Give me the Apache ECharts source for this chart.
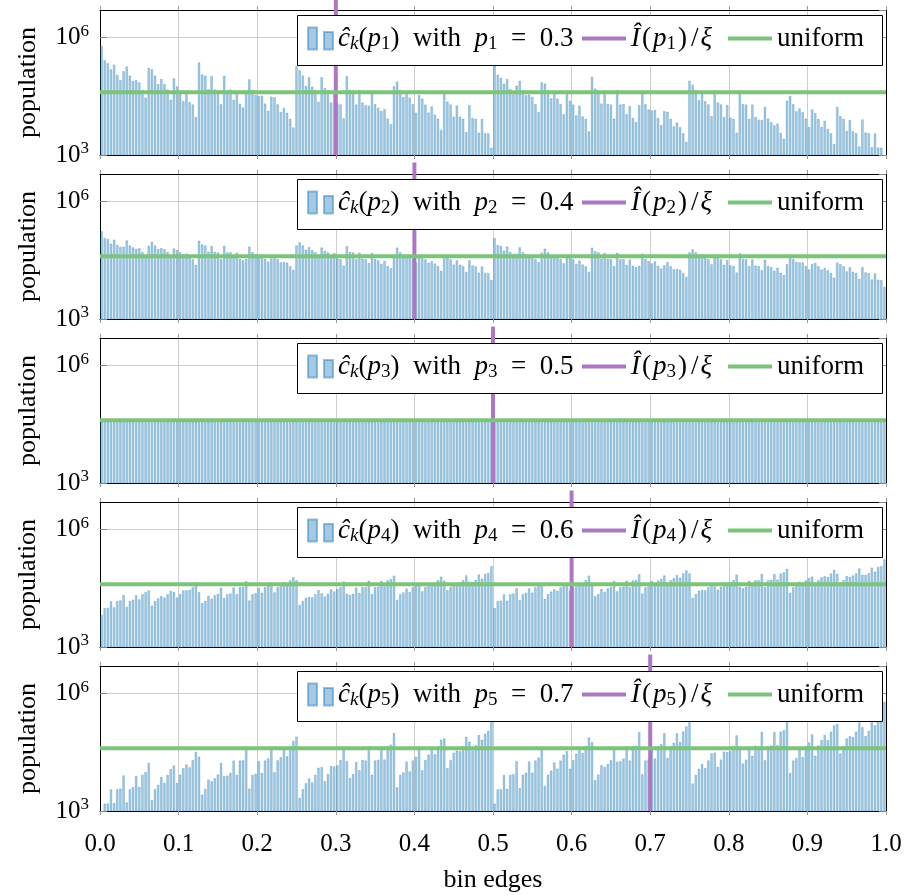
<!DOCTYPE html>
<html><head><meta charset="utf-8">
<script src="https://cdn.jsdelivr.net/npm/echarts@6/dist/echarts.min.js"></script>
<style>html,body{margin:0;padding:0;background:#fff}#chart{width:906px;height:895px}</style>
</head><body><div id="chart"></div>
<script>
// ---- data (population per bin, in thousands) ----
const pValues = [0.3, 0.4, 0.5, 0.6, 0.7];
const uniformThousands = 40;
const c1k = [615,264,221,155,204,112,82.9,139,184,107,78.6,82.0,71.7,46.7,29.5,169,
156,107,65.2,87.9,64.9,47.4,25.9,91.1,56.8,45.7,24.0,42.7,22.6,19.6,9.42,232,
116,107,48.3,104,47.5,45.7,19.8,106,45.7,47.1,25.9,41.8,20.6,16.4,44.3,85.9,
46.7,34.4,32.3,33.0,20.7,13.5,31.1,29.9,19.7,12.6,16.0,12.0,8.41,5.05,186,146,
108,58.6,96.9,55.7,46.1,22.9,97.6,51.6,45.8,22.0,44.4,20.9,19.6,8.70,104,46.5,
45.6,19.6,45.4,21.9,18.7,18.2,39.8,20.0,16.1,13.4,14.9,8.57,6.13,57.2,76.0,46.7,
30.6,36.1,29.2,19.9,12.1,34.0,27.6,19.5,12.2,17.4,10.8,8.48,4.41,40.0,23.2,19.6,
9.62,18.5,9.51,8.47,3.87,18.9,8.77,8.40,3.70,8.31,3.63,3.58,1.54,264,113,94.9,
66.5,87.4,48.2,35.5,59.5,79.0,45.9,33.7,35.1,30.7,20.0,12.6,72.4,67.0,45.8,28.0,
37.7,27.8,20.3,11.1,39.1,24.3,19.6,10.3,18.3,9.68,8.39,4.04,99.4,49.9,45.8,20.7,
44.8,20.4,19.6,8.49,45.3,19.6,20.2,11.1,17.9,8.85,7.03,19.0,36.8,20.0,14.7,13.8,
14.1,8.88,5.79,13.3,12.8,8.43,5.40,6.84,5.15,3.60,2.16,79.6,62.4,46.2,25.1,41.5,
23.9,19.8,9.79,41.8,22.1,19.6,9.43,19.0,8.96,8.39,3.73,44.8,19.9,19.5,8.42,19.5,
9.39,8.03,7.81,17.0,8.57,6.91,5.73,6.38,3.67,2.63,24.5,32.6,20.0,13.1,15.5,12.5,
8.53,5.20,14.6,11.8,8.37,5.23,7.46,4.64,3.63,1.89,17.1,9.93,8.40,4.12,7.92,4.08,
3.63,1.66,8.12,3.76,3.60,1.59,3.56,1.56,1.54,0.66];
const c2k = [175,117,111,84.2,107,77.7,69.9,70.4,102,76.1,67.5,62.0,65.2,51.2,42.5,74.8,
94.3,76.0,61.7,65.2,60.9,51.6,40.0,63.3,58.2,50.5,38.4,47.0,37.2,33.7,24.3,100,
81.3,75.9,53.0,73.6,52.2,50.5,34.1,74.5,50.5,50.9,36.3,49.8,34.6,32.1,34.6,71.0,
51.2,45.8,39.6,44.6,34.6,29.4,35.4,42.9,33.8,28.2,28.7,27.5,22.5,18.0,76.2,91.1,
76.5,59.0,69.0,57.5,50.9,37.5,67.6,55.1,50.4,36.6,48.6,35.6,33.7,23.2,72.7,51.6,
50.4,33.9,50.0,34.9,33.8,26.7,48.9,34.2,31.7,25.9,30.7,22.8,20.0,37.7,67.0,51.2,
43.3,42.1,42.2,34.1,27.7,38.3,40.8,33.6,27.5,30.2,26.3,22.6,17.1,41.9,37.8,33.7,
24.7,31.6,24.4,22.6,15.9,31.9,23.4,22.4,15.4,22.1,15.1,14.9,9.93,117,78.0,73.9,
56.1,71.3,51.8,46.6,46.9,68.1,50.7,45.0,41.3,43.5,34.2,28.4,49.9,62.9,50.7,41.1,
43.5,40.6,34.4,26.6,42.2,38.8,33.7,25.6,31.3,24.8,22.5,16.2,66.9,54.2,50.6,35.4,
49.1,34.8,33.7,22.8,49.7,33.7,34.0,24.2,33.2,23.0,21.4,23.1,47.3,34.2,30.5,26.4,
29.7,23.1,19.6,23.6,28.6,22.5,18.8,19.1,18.3,15.0,12.0,50.8,60.7,51.0,39.4,46.0,
38.3,33.9,25.0,45.1,36.7,33.6,24.4,32.4,23.7,22.5,15.5,48.4,34.4,33.6,22.6,33.4,
23.3,22.5,17.8,32.6,22.8,21.1,17.3,20.5,15.2,13.3,25.1,44.7,34.2,28.9,28.0,28.1,
22.7,18.5,25.6,27.2,22.4,18.3,20.1,17.6,15.1,11.4,27.9,25.2,22.5,16.5,21.1,16.3,
15.1,10.6,21.3,15.6,14.9,10.3,14.7,10.1,9.93,6.62];
const c3k = [40,40,40,40,40,40,40,40,40,40,40,40,40,40,40,40,40,40,40,40,40,40,40,40,40,
40,40,40,40,40,40,40,40,40,40,40,40,40,40,40,40,40,40,40,40,40,40,40,40,40,
40,40,40,40,40,40,40,40,40,40,40,40,40,40,40,40,40,40,40,40,40,40,40,40,40,
40,40,40,40,40,40,40,40,40,40,40,40,40,40,40,40,40,40,40,40,40,40,40,40,40,
40,40,40,40,40,40,40,40,40,40,40,40,40,40,40,40,40,40,40,40,40,40,40,40,40,
40,40,40,40,40,40,40,40,40,40,40,40,40,40,40,40,40,40,40,40,40,40,40,40,40,
40,40,40,40,40,40,40,40,40,40,40,40,40,40,40,40,40,40,40,40,40,40,40,40,40,
40,40,40,40,40,40,40,40,40,40,40,40,40,40,40,40,40,40,40,40,40,40,40,40,40,
40,40,40,40,40,40,40,40,40,40,40,40,40,40,40,40,40,40,40,40,40,40,40,40,40,
40,40,40,40,40,40,40,40,40,40,40,40,40,40,40,40,40,40,40,40,40,40,40,40,40];
const c4k = [6.62,9.93,10.1,14.7,10.3,14.9,15.6,21.3,10.6,15.1,
16.3,21.1,16.5,22.5,25.2,27.9,11.4,15.1,17.6,20.1,18.3,22.4,27.2,25.6,18.5,22.7,
28.1,28.0,28.9,34.2,44.7,25.1,13.3,15.2,20.5,17.3,21.1,22.8,32.6,17.8,22.5,23.3,
33.4,22.6,33.6,34.4,48.4,15.5,22.5,23.7,32.4,24.4,33.6,36.7,45.1,25.0,33.9,38.3,
46.0,39.4,51.0,60.7,50.8,12.0,15.0,18.3,19.1,18.8,22.5,28.6,23.6,19.6,23.1,29.7,
26.4,30.5,34.2,47.3,23.1,21.4,23.0,33.2,24.2,34.0,33.7,49.7,22.8,33.7,34.8,49.1,
35.4,50.6,54.2,66.9,16.2,22.5,24.8,31.3,25.6,33.7,38.8,42.2,26.6,34.4,40.6,43.5,
41.1,50.7,62.9,49.9,28.4,34.2,43.5,41.3,45.0,50.7,68.1,46.9,46.6,51.8,71.3,56.1,
73.9,78.0,117,9.93,14.9,15.1,22.1,15.4,22.4,23.4,31.9,15.9,22.6,24.4,31.6,24.7,
33.7,37.8,41.9,17.1,22.6,26.3,30.2,27.5,33.6,40.8,38.3,27.7,34.1,42.2,42.1,43.3,
51.2,67.0,37.7,20.0,22.8,30.7,25.9,31.7,34.2,48.9,26.7,33.8,34.9,50.0,33.9,50.4,
51.6,72.7,23.2,33.7,35.6,48.6,36.6,50.4,55.1,67.6,37.5,50.9,57.5,69.0,59.0,76.5,
91.1,76.2,18.0,22.5,27.5,28.7,28.2,33.8,42.9,35.4,29.4,34.6,44.6,39.6,45.8,51.2,
71.0,34.6,32.1,34.6,49.8,36.3,50.9,50.5,74.5,34.1,50.5,52.2,73.6,53.0,75.9,81.3,
100,24.3,33.7,37.2,47.0,38.4,50.5,58.2,63.3,40.0,51.6,60.9,65.2,61.7,76.0,94.3,
74.8,42.5,51.2,65.2,62.0,67.5,76.1,102,70.4,69.9,77.7,107,84.2,111,117,175];
const c5k = [0.66,1.54,1.56,3.56,1.59,3.60,3.76,8.12,1.66,3.63,
4.08,7.92,4.12,8.40,9.93,17.1,1.89,3.63,4.64,7.46,5.23,8.37,11.8,14.6,5.20,8.53,
12.5,15.5,13.1,20.0,32.6,24.5,2.63,3.67,6.38,5.73,6.91,8.57,17.0,7.81,8.03,9.39,
19.5,8.42,19.5,19.9,44.8,3.73,8.39,8.96,19.0,9.43,19.6,22.1,41.8,9.79,19.8,23.9,
41.5,25.1,46.2,62.4,79.6,2.16,3.60,5.15,6.84,5.40,8.43,12.8,13.3,5.79,8.88,14.1,
13.8,14.7,20.0,36.8,19.0,7.03,8.85,17.9,11.1,20.2,19.6,45.3,8.49,19.6,20.4,44.8,
20.7,45.8,49.9,99.4,4.04,8.39,9.68,18.3,10.3,19.6,24.3,39.1,11.1,20.3,27.8,37.7,
28.0,45.8,67.0,72.4,12.6,20.0,30.7,35.1,33.7,45.9,79.0,59.5,35.5,48.2,87.4,66.5,
94.9,113,264,1.54,3.58,3.63,8.31,3.70,8.40,8.77,18.9,3.87,8.47,9.51,18.5,9.62,
19.6,23.2,40.0,4.41,8.48,10.8,17.4,12.2,19.5,27.6,34.0,12.1,19.9,29.2,36.1,30.6,
46.7,76.0,57.2,6.13,8.57,14.9,13.4,16.1,20.0,39.8,18.2,18.7,21.9,45.4,19.6,45.6,
46.5,104,8.70,19.6,20.9,44.4,22.0,45.8,51.6,97.6,22.9,46.1,55.7,96.9,58.6,108,
146,186,5.05,8.41,12.0,16.0,12.6,19.7,29.9,31.1,13.5,20.7,33.0,32.3,34.4,46.7,
85.9,44.3,16.4,20.6,41.8,25.9,47.1,45.7,106,19.8,45.7,47.5,104,48.3,107,116,
232,9.42,19.6,22.6,42.7,24.0,45.7,56.8,91.1,25.9,47.4,64.9,87.9,65.2,107,156,
169,29.5,46.7,71.7,82.0,78.6,107,184,139,82.9,112,204,155,221,264,615];
const panelCountsK = [c1k, c2k, c3k, c4k, c5k];
const yTickExponents = [3, 6];

// ---- layout / style ----
const FONT = "'Liberation Serif', 'Times New Roman', serif";
const BAR_FILL = 'rgba(31,119,180,0.40)';
const BAR_EDGE = 'rgba(31,119,180,0.45)';
const GREEN = '#7cc47a';
const PURPLE = '#ad78c1';
const GRID_COLOR = '#cdcdcd';
const tops = [10, 174, 338, 502, 666];
const H = 145, LEFT = 100, W = 786;
const Y_MIN = 1000, Y_MAX = 5.1e6, LINE_TOP = 1e7;

const legendRich = {
  n: {fontFamily: FONT, fontSize: 27, lineHeight: 30, color: '#000'},
  np: {fontFamily: FONT, fontSize: 27, lineHeight: 30, color: '#000', padding: [0, 2, 0, 2]},
  m: {fontFamily: FONT, fontSize: 27, lineHeight: 30, color: '#000', fontStyle: 'italic'},
  sb: {fontFamily: FONT, fontSize: 19, lineHeight: 17, color: '#000', verticalAlign: 'bottom'},
  sbi: {fontFamily: FONT, fontSize: 19, lineHeight: 17, color: '#000', verticalAlign: 'bottom', fontStyle: 'italic'}
};
const yLabelRich = {
  b: {fontFamily: FONT, fontSize: 25, lineHeight: 30, color: '#000'},
  s: {fontFamily: FONT, fontSize: 17, lineHeight: 17, color: '#000', verticalAlign: 'top'}
};

const grid = [], xAxis = [], yAxis = [], series = [], legend = [], graphicEls = [];
panelCountsK.forEach((countsK, i) => {
  const n = i + 1, p = pValues[i], top = tops[i], nBins = countsK.length;
  grid.push({left: LEFT, top: top, width: W, height: H, outerBoundsMode: 'none', containLabel: false});
  xAxis.push({
    type: 'value', gridIndex: i, min: 0, max: 1, interval: 0.1, position: 'bottom',
    axisLine: {show: true, onZero: false, lineStyle: {color: '#000', width: 1}},
    axisTick: {show: true, inside: false, length: 4, lineStyle: {color: '#999', width: 1}},
    axisLabel: {show: i === 4, margin: 21, fontFamily: FONT, fontSize: 25, color: '#000',
      formatter: v => v.toFixed(1)},
    splitLine: {show: true, lineStyle: {color: GRID_COLOR, width: 1}},
    name: i === 4 ? 'bin edges' : '', nameLocation: 'middle', nameGap: 56, nameMoveOverlap: false,
    nameTextStyle: {fontFamily: FONT, fontSize: 26, color: '#000'}
  });
  xAxis.push({
    type: 'value', gridIndex: i, min: 0, max: 1, interval: 0.1, position: 'top',
    axisLine: {show: true, onZero: false, lineStyle: {color: '#000', width: 1}},
    axisTick: {show: true, inside: false, length: 4, lineStyle: {color: '#999', width: 1}},
    axisLabel: {show: false}, splitLine: {show: false}
  });
  yAxis.push({
    type: 'log', logBase: 10, gridIndex: i, min: Y_MIN, max: Y_MAX, interval: 3, position: 'left',
    axisLine: {show: true, onZero: false, lineStyle: {color: '#000', width: 1}},
    axisTick: {show: true, inside: true, length: 7, lineStyle: {color: '#888', width: 1}},
    axisLabel: {show: true, margin: 11, showMaxLabel: false, rich: yLabelRich,
      formatter: v => {
        const e = Math.log10(v), r = Math.round(e);
        if (Math.abs(e - r) > 0.01 || yTickExponents.indexOf(r) < 0) return '';
        return '{b|10}{s|' + r + '}';
      }},
    splitLine: {show: true, lineStyle: {color: GRID_COLOR, width: 1}},
    name: 'population', nameLocation: 'middle', nameGap: 59, nameRotate: 90, nameMoveOverlap: false,
    nameTextStyle: {fontFamily: FONT, fontSize: 26, color: '#000'}
  });
  yAxis.push({
    type: 'log', logBase: 10, gridIndex: i, min: Y_MIN, max: Y_MAX, interval: 3, position: 'right',
    axisLine: {show: true, onZero: false, lineStyle: {color: '#000', width: 1}},
    axisTick: {show: true, inside: true, length: 7, lineStyle: {color: '#888', width: 1}},
    axisLabel: {show: false}, splitLine: {show: false}
  });
  const xi = 2 * i, yi = 2 * i;
  series.push({
    type: 'bar', name: 'c' + n, xAxisIndex: xi, yAxisIndex: yi, clip: true, silent: true,
    barWidth: 2.4,
    itemStyle: {color: BAR_FILL, borderColor: BAR_EDGE, borderWidth: 0.6},
    data: countsK.map((v, k) => [(k + 0.5) / nBins, v * 1000])
  });
  series.push({
    type: 'line', name: 'I' + n, xAxisIndex: xi, yAxisIndex: yi, clip: false, silent: true,
    symbol: 'none', z: 3,
    lineStyle: {color: PURPLE, width: 4, cap: 'butt'}, itemStyle: {color: PURPLE},
    data: [[p, Y_MIN], [p, LINE_TOP]]
  });
  series.push({
    type: 'line', name: 'u' + n, xAxisIndex: xi, yAxisIndex: yi, clip: true, silent: true,
    symbol: 'none', z: 4,
    lineStyle: {color: GREEN, width: 4}, itemStyle: {color: GREEN},
    data: [[0, uniformThousands * 1000], [1, uniformThousands * 1000]]
  });
  // legend frame
  graphicEls.push({type: 'rect', z: 5, silent: true,
    shape: {x: 297.5, y: top + 5.5, width: 585, height: 50},
    style: {fill: '#fff', stroke: '#000', lineWidth: 1}});
  const common = {top: top + 15, padding: 0, itemGap: 0, selectedMode: false, z: 6,
    textStyle: {fontFamily: FONT, fontSize: 27, color: '#000', rich: legendRich}};
  legend.push(Object.assign({}, common, {
    left: 307, data: ['c' + n], itemWidth: 25, itemHeight: 22,
    icon: 'path://M0,0H9V22H0Z M16,4.5H25V22H16Z',
    formatter: () => '{m|ĉ}{sbi|k}{n|(}{m|p}{sb|' + n + '}{n|)  with  }{m|p}{sb|' + n + '}{n|  =  ' + p.toFixed(1) + '}'
  }));
  legend.push(Object.assign({}, common, {
    left: 580, data: ['I' + n], itemWidth: 44, itemHeight: 4,
    lineStyle: {width: 4, color: PURPLE}, itemStyle: {color: PURPLE, borderWidth: 0},
    formatter: () => '{m|Î}{np|(}{m|p}{sb|' + n + '}{np|)}{np|/}{m|ξ}'
  }));
  legend.push(Object.assign({}, common, {
    left: 726, data: ['u' + n], itemWidth: 44, itemHeight: 4,
    lineStyle: {width: 4, color: GREEN}, itemStyle: {color: GREEN, borderWidth: 0},
    formatter: () => '{n|uniform}'
  }));
});

const chart = echarts.init(document.getElementById('chart'), null, {renderer: 'canvas'});
chart.setOption({
  animation: false,
  backgroundColor: '#fff',
  grid, xAxis, yAxis, series, legend,
  graphic: {elements: graphicEls}
});
</script></body></html>
